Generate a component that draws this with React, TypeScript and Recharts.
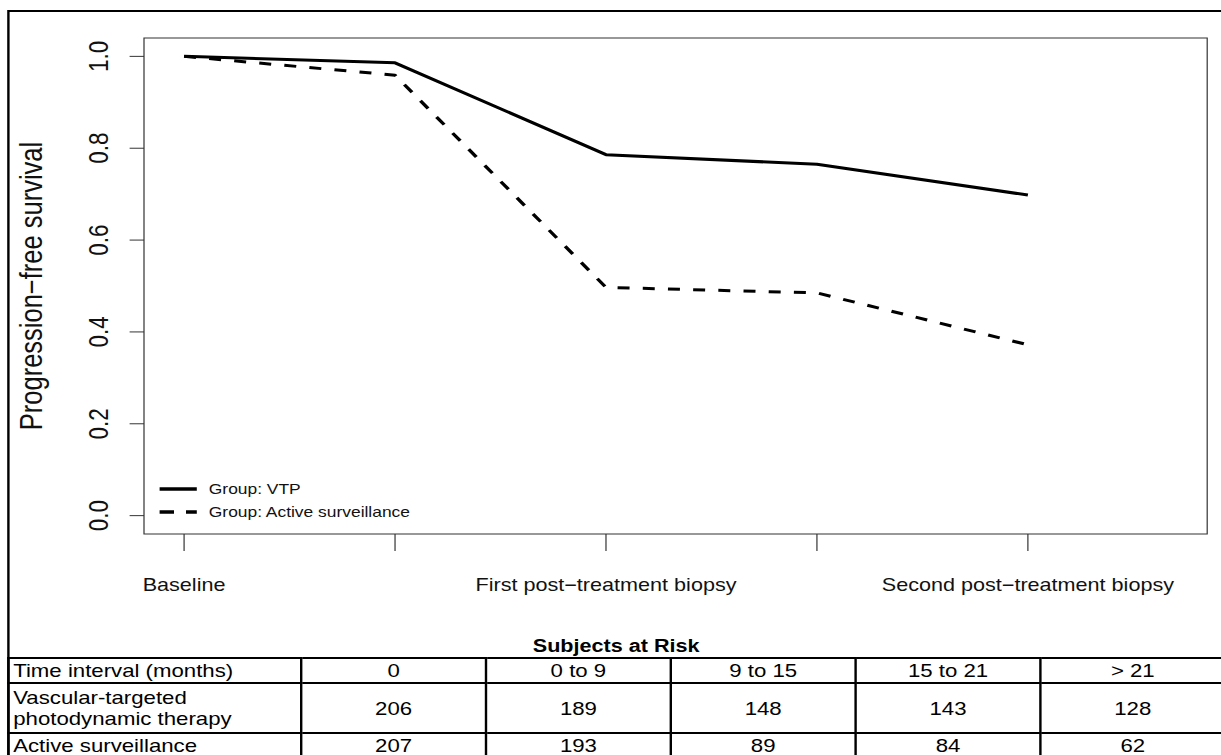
import { Line, LineChart, ReferenceArea, XAxis, YAxis } from 'recharts';

// visit steps on the x axis; only baseline and the two biopsies are labelled
const steps = [1, 2, 3, 4, 5];
const stepLabels = ['Baseline', '', 'First post−treatment biopsy', '', 'Second post−treatment biopsy'];
const vtpSurvival = [1.0, 0.986, 0.786, 0.765, 0.698];
const surveillanceSurvival = [1.0, 0.959, 0.497, 0.485, 0.372];
const yTicks = [0, 0.2, 0.4, 0.6, 0.8, 1.0];

// subjects-at-risk table
const intervals = ['0', '0 to 9', '9 to 15', '15 to 21', '> 21'];
const vtpAtRisk = [206, 189, 148, 143, 128];
const surveillanceAtRisk = [207, 193, 89, 84, 62];

const rows = steps.map((step, i) => ({
  step,
  vtp: vtpSurvival[i],
  surveillance: surveillanceSurvival[i]
}));

const FONT = '"Liberation Sans", Arial, Helvetica, sans-serif';
// the figure is laid out narrow and widened as a whole
const STRETCH = 1.2;

const XTick = ({ x, y, payload }: any) => {
  const label = stepLabels[steps.indexOf(payload.value)];
  if (!label) return <g />;
  return (
    <text x={x} y={y + 38} textAnchor="middle" fontSize={18} fill="#111" fontFamily={FONT}>
      {label}
    </text>
  );
};

const YTick = ({ x, y, payload }: any) => {
  const cx = x - 24;
  return (
    <text
      x={cx}
      y={y}
      transform={`rotate(-90 ${cx} ${y})`}
      textAnchor="middle"
      dominantBaseline="central"
      fontSize={22.5}
      fill="#111"
      fontFamily={FONT}
    >
      {payload.value.toFixed(1)}
    </text>
  );
};

const YLabel = ({ viewBox }: any) => {
  const cx = 35;
  const cy = viewBox.y + viewBox.height / 2;
  return (
    <text
      x={cx}
      y={cy}
      transform={`rotate(-90 ${cx} ${cy})`}
      textAnchor="middle"
      fontSize={25.5}
      fill="#111"
      fontFamily={FONT}
    >
      Progression−free survival
    </text>
  );
};

const LegendBox = () => (
  <div style={{ position: 'absolute', left: 130, top: 478, fontFamily: FONT, fontSize: 14.5, color: '#111' }}>
    {[
      { label: 'Group: VTP', dash: undefined },
      { label: 'Group: Active surveillance', dash: '12 10' }
    ].map((item) => (
      <div key={item.label} style={{ display: 'flex', alignItems: 'center', height: 22.5 }}>
        <svg width={40} height={10}>
          <line x1={3} y1={5} x2={34} y2={5} stroke="#000" strokeWidth={3.5} strokeDasharray={item.dash} />
        </svg>
        <span style={{ marginLeft: 4 }}>{item.label}</span>
      </div>
    ))}
  </div>
);

const cell = {
  border: '2px solid #000',
  padding: '0 3px',
  textAlign: 'center' as const,
  verticalAlign: 'middle' as const
};
const headCell = { ...cell, textAlign: 'left' as const };

const RiskTable = () => (
  <table
    style={{
      position: 'absolute',
      left: 6,
      top: 657,
      borderCollapse: 'collapse',
      tableLayout: 'fixed',
      width: 1014,
      fontFamily: FONT,
      fontSize: 18.5,
      lineHeight: '21px',
      color: '#000'
    }}
  >
    <colgroup>
      <col style={{ width: 244 }} />
      {intervals.map((iv) => (
        <col key={iv} style={{ width: 154 }} />
      ))}
    </colgroup>
    <tbody>
      <tr style={{ height: 25 }}>
        <td style={headCell}>Time interval (months)</td>
        {intervals.map((iv) => (
          <td key={iv} style={cell}>{iv}</td>
        ))}
      </tr>
      <tr style={{ height: 50 }}>
        <td style={headCell}>
          Vascular-targeted
          <br />
          photodynamic therapy
        </td>
        {vtpAtRisk.map((n, i) => (
          <td key={i} style={cell}>{n}</td>
        ))}
      </tr>
      <tr style={{ height: 25 }}>
        <td style={headCell}>Active surveillance</td>
        {surveillanceAtRisk.map((n, i) => (
          <td key={i} style={cell}>{n}</td>
        ))}
      </tr>
    </tbody>
  </table>
);

export default function App() {
  return (
    <div style={{ position: 'relative', width: 1221, height: 755, overflow: 'hidden', background: '#fff' }}>
      <style>{'body{margin:0}'}</style>
      <div
        style={{
          position: 'absolute',
          left: 0,
          top: 0,
          width: 1030,
          height: 755,
          transform: `scaleX(${STRETCH})`,
          transformOrigin: '0 0'
        }}
      >
        <div
          style={{
            position: 'absolute',
            left: 6,
            top: 10,
            width: 1040,
            height: 800,
            border: '2px solid #000',
            boxSizing: 'border-box'
          }}
        />
        <div style={{ position: 'absolute', left: 0, top: 0 }}>
          <LineChart width={1018} height={640} data={rows} margin={{ top: 38, right: 12, left: 0, bottom: 0 }}>
            <ReferenceArea x1={0.81} x2={5.85} y1={-0.04} y2={1.04} fill="none" stroke="#333" strokeWidth={1} />
            <XAxis
              dataKey="step"
              type="number"
              domain={[0.81, 5.85]}
              ticks={steps}
              interval={0}
              allowDataOverflow
              axisLine={false}
              tickLine={{ stroke: '#333' }}
              tickSize={17}
              height={106}
              tick={<XTick />}
            />
            <YAxis
              type="number"
              domain={[-0.04, 1.04]}
              ticks={yTicks}
              interval={0}
              allowDataOverflow
              axisLine={false}
              tickLine={{ stroke: '#333' }}
              tickSize={12}
              width={120}
              tick={<YTick />}
              label={<YLabel />}
            />
            <Line
              dataKey="vtp"
              stroke="#000"
              strokeWidth={3}
              strokeLinejoin="round"
              dot={false}
              isAnimationActive={false}
            />
            <Line
              dataKey="surveillance"
              stroke="#000"
              strokeWidth={3}
              strokeDasharray="10 11"
              strokeLinejoin="round"
              dot={false}
              isAnimationActive={false}
            />
          </LineChart>
        </div>
        <LegendBox />
        <div
          style={{
            position: 'absolute',
            left: 6,
            top: 636,
            width: 1015,
            textAlign: 'center',
            fontFamily: FONT,
            fontWeight: 'bold',
            fontSize: 18,
            lineHeight: '20px'
          }}
        >
          Subjects at Risk
        </div>
        <RiskTable />
      </div>
    </div>
  );
}
